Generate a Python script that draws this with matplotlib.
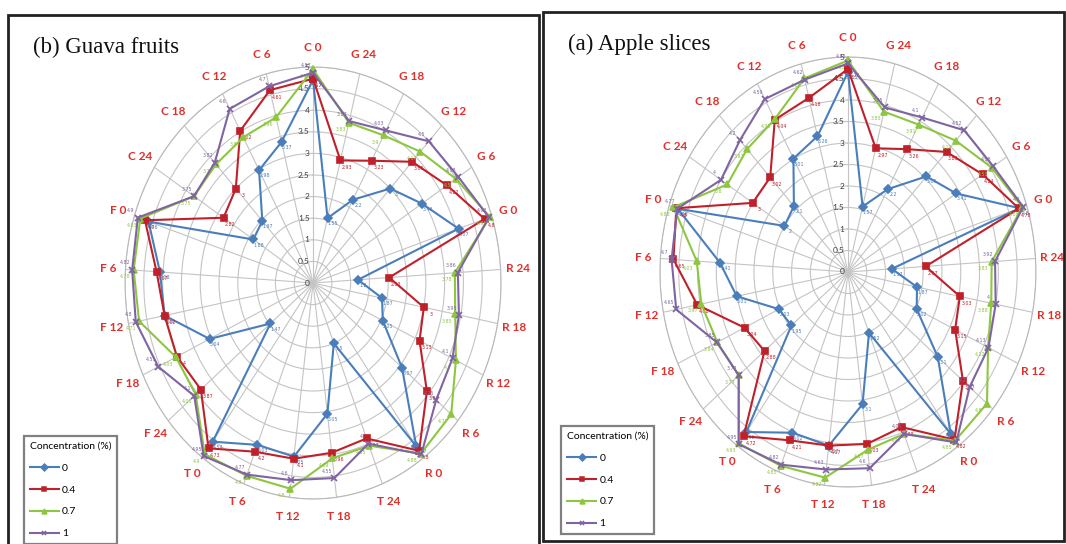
import numpy as np
import matplotlib
matplotlib.use("Agg")
import matplotlib.pyplot as plt
from matplotlib.patches import Rectangle
from matplotlib.lines import Line2D

# Sensory attributes (C, G, R, T, F) at storage times, clockwise from the top
attributes = ["C 0", "G 24", "G 18", "G 12", "G 6", "G 0",
              "R 24", "R 18", "R 12", "R 6", "R 0",
              "T 24", "T 18", "T 12", "T 6", "T 0",
              "F 24", "F 18", "F 12", "F 6", "F 0",
              "C 24", "C 18", "C 12", "C 6"]
concentrations = ["0", "0.4", "0.7", "1"]
radial_ticks = [0, 0.5, 1, 1.5, 2, 2.5, 3, 3.5, 4, 4.5, 5]

guava_c0 = [4.7, 1.55, 2.2, 3.0, 3.43, 4.07, 1.2, 1.87, 2.05, 3.07, 4.67, 1.5, 3.05,
            4.05, 4.03, 4.54, 1.47, 3.04, 4.02, 4.08, 4.6, 1.88, 1.97, 2.98, 3.37]
guava_c04 = [4.73, 2.93, 3.23, 3.85, 4.22, 4.8, 2.03, 3.0, 3.13, 3.93, 4.8, 3.87, 3.96,
             4.1, 4.2, 4.73, 3.87, 4.0, 4.02, 4.17, 4.7, 2.82, 3.0, 4.02, 4.61]
guava_c07 = [4.95, 3.83, 3.9, 4.17, 4.5, 4.95, 3.78, 3.85, 4.2, 4.77, 4.88, 4.05, 4.09,
             4.8, 4.8, 4.9, 4.05, 4.03, 4.71, 4.78, 4.83, 3.75, 3.77, 3.85, 3.96]
guava_c1 = [4.87, 3.87, 4.03, 4.5, 4.58, 4.92, 3.86, 3.95, 4.1, 4.25, 4.9, 4.0, 4.55,
            4.6, 4.77, 4.95, 4.1, 4.55, 4.8, 4.82, 4.9, 3.75, 3.82, 4.6, 4.7]

apple_c0 = [4.65, 1.57, 2.2, 3.05, 3.41, 4.8, 1.17, 1.87, 2.02, 3.1, 4.65, 1.52, 3.1,
            4.07, 4.02, 4.6, 1.95, 2.03, 3.01, 3.41, 4.76, 2.0, 2.1, 3.01, 3.26]
apple_c04 = [4.72, 2.97, 3.26, 3.83, 4.24, 4.78, 2.07, 3.03, 3.15, 3.97, 4.82, 3.88, 4.03,
             4.07, 4.21, 4.72, 2.88, 3.04, 4.08, 4.65, 4.8, 3.0, 3.02, 4.04, 4.18]
apple_c07 = [4.92, 3.85, 3.91, 4.19, 4.53, 4.88, 3.83, 3.88, 4.12, 4.8, 4.85, 4.05, 4.17,
             4.82, 4.85, 4.93, 3.77, 3.84, 3.97, 4.03, 4.88, 3.8, 3.92, 4.05, 4.65]
apple_c1 = [4.85, 3.95, 4.1, 4.52, 4.58, 4.9, 3.92, 4.0, 4.13, 4.2, 4.9, 4.05, 4.6,
            4.63, 4.82, 4.95, 3.77, 3.85, 4.65, 4.7, 4.77, 4.0, 4.2, 4.59, 4.62]

colors = ["#4a7ebb", "#c0202a", "#8dc63f", "#8064a2"]
markers = ["D", "s", "^", "x"]
label_offsets = [(4, -4), (5, -5), (-6, -5), (-5, 5)]
label_red = "#e0302b"

W, H = 1066, 544
fig = plt.figure(figsize=(W / 100, H / 100), dpi=100)
fig.patch.set_facecolor("white")

theta = np.linspace(0, 2 * np.pi, len(attributes), endpoint=False)


def fmt(v):
    return ("%.2f" % v).rstrip("0").rstrip(".")


def radar(rect, series, title, title_xy, legend_anchor):
    ax = fig.add_axes(rect, projection="polar")
    ax.set_aspect("auto")
    ax.set_theta_offset(np.pi / 2)
    ax.set_theta_direction(-1)
    ax.set_ylim(0, 5)
    ax.set_xticks(theta)
    ax.set_xticklabels([])
    ax.set_yticks(radial_ticks)
    ax.set_yticklabels([])
    ax.grid(True, color="#c4c4c4", lw=0.8)
    ax.spines["polar"].set_color("#b8b8b8")
    ax.spines["polar"].set_linewidth(0.8)

    for r in radial_ticks:
        ax.annotate(fmt(r), (0, r), xytext=(-2.5, 0), textcoords="offset points",
                    ha="right", va="center", fontsize=6, color="#404040",
                    family="Lato")

    for t, lab in zip(theta, attributes):
        ax.text(t, 5.45, lab, ha="center", va="center", color=label_red,
                fontsize=8.5, fontweight="bold", family="Lato", clip_on=False)

    for vals, c, m, off in zip(series, colors, markers, label_offsets):
        tt = np.append(theta, theta[0])
        vv = np.append(vals, vals[0])
        ax.plot(tt, vv, color=c, lw=1.5, marker=m, ms=4 if m != "x" else 4.5,
                mew=1.2, clip_on=False, zorder=3)
        for t, v in zip(theta, vals):
            ax.annotate(fmt(v), (t, v), xytext=off, textcoords="offset points",
                        ha="center", va="center", fontsize=3.4, color=c,
                        annotation_clip=False)

    fig.text(title_xy[0], title_xy[1], title, fontsize=16.5, family="Liberation Serif",
             ha="left", va="center", color="#111111")

    handles = [Line2D([], [], color=c, marker=m, lw=1.5, ms=3.5, mew=1.1)
               for c, m in zip(colors, markers)]
    leg = fig.legend(handles, concentrations, title="Concentration (%)",
                     loc="upper left", bbox_to_anchor=legend_anchor,
                     labelspacing=1.2, handlelength=2.8, handletextpad=0.3,
                     borderpad=0.55, fancybox=False, edgecolor="#808080",
                     framealpha=1, prop={"family": "Lato", "size": 7.5},
                     title_fontproperties={"family": "Lato", "size": 7.5})
    leg.get_frame().set_linewidth(1.6)
    leg._legend_box.align = "left"
    return ax


radar([0.1173, 0.0827, 0.3527, 0.7941], [guava_c0, guava_c04, guava_c07, guava_c1],
      "(b) Guava fruits", (0.031, 0.912), (0.0178, 0.2075))
radar([0.6191, 0.1048, 0.3527, 0.7904], [apple_c0, apple_c04, apple_c07, apple_c1],
      "(a) Apple slices", (0.533, 0.919), (0.5216, 0.2260))

# panel frames
fig.patches.append(Rectangle((8 / W, -0.05), 531 / W, 1.05 - 15 / H, transform=fig.transFigure,
                             fill=False, edgecolor="#222222", lw=2.0))
fig.patches.append(Rectangle((543 / W, 3 / H), 521 / W, 1 - 15 / H, transform=fig.transFigure,
                             fill=False, edgecolor="#222222", lw=2.0))

fig.savefig("out.png", dpi=100, facecolor="white")
